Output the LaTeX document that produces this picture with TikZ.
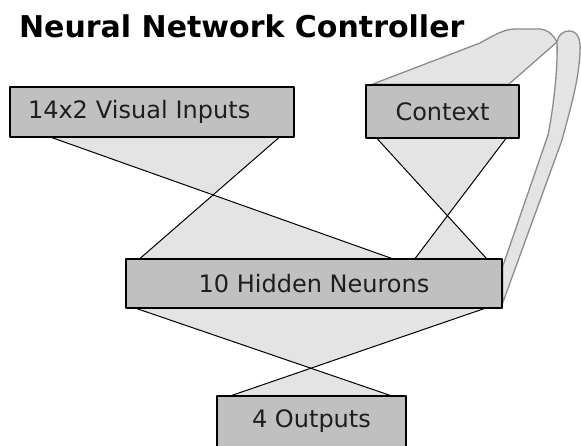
\documentclass[tikz,border=0pt]{standalone}
\usepackage{fontspec}
\setmainfont{DejaVu Sans}
\usetikzlibrary{calc,backgrounds}
\definecolor{boxgray}{RGB}{192,192,192}
\definecolor{fangray}{RGB}{228,228,228}
\definecolor{loopgray}{RGB}{140,140,140}
\definecolor{textgray}{RGB}{30,30,30}

\begin{document}
\begin{tikzpicture}[line cap=round,line join=round,x=0.5pt,y=-0.5pt,
    layer/.style={draw=black,line width=0.75pt,fill=boxgray,inner sep=0pt,text=textgray,font=\fontsize{12}{14}\selectfont},
    fan/.style={fill=fangray},
    wire/.style={draw=black,line width=0.5pt},
    recur/.style={draw=loopgray,line width=0.65pt,fill=fangray}]
      \useasboundingbox (0,0) rectangle (581,445);
      \node[anchor=base west,font=\fontsize{15}{18}\selectfont\bfseries] (title) at (12,37) {Neural Network Controller};
      \node[layer,minimum width=142pt,minimum height=25pt,inner xsep=9pt,text width=124pt,align=left] (vis) at (152,112) {14x2 Visual Inputs};
      \node[layer,minimum width=76.5pt,minimum height=26.5pt] (ctx) at (442.5,111.5) {Context};
      \node[layer,minimum width=188pt,minimum height=24.5pt] (hid) at (314,283.5) {10 Hidden Neurons};
      \node[layer,minimum width=94.5pt,minimum height=25.5pt] (out) at (311.5,421.5) {4 Outputs};
      \coordinate (vis-l) at ($(vis.south west)+(43,0)$);
      \coordinate (vis-r) at ($(vis.south east)+(-16,0)$);
      \coordinate (ctx-l) at ($(ctx.south west)+(12,0)$);
      \coordinate (ctx-r) at ($(ctx.south east)+(-14,0)$);
      \coordinate (hid-a) at ($(hid.north west)+(15,0)$);
      \coordinate (hid-b) at ($(hid.north west)+(266,0)$);
      \coordinate (hid-c) at ($(hid.north west)+(290,0)$);
      \coordinate (hid-d) at ($(hid.north west)+(361,0)$);
      \coordinate (hid-l) at ($(hid.south west)+(12,0)$);
      \coordinate (hid-r) at ($(hid.south east)+(-19,0)$);
      \coordinate (out-l) at ($(out.north west)+(16,0)$);
      \coordinate (out-r) at ($(out.north east)+(-17,0)$);
      \coordinate (ctx-tl) at ($(ctx.north west)+(7,0)$);
      \coordinate (ctx-tr) at ($(ctx.north east)+(-11,0)$);
      \coordinate (hid-ru) at ($(hid.north east)+(0,8)$);
      \coordinate (hid-rd) at ($(hid.south east)+(0,-6)$);
      \begin{pgfonlayer}{background}
      \fill[fan] (vis-l) -- (vis-r) -- (hid-a) -- (hid-b) -- cycle;
      \fill[fan] (ctx-l) -- (ctx-r) -- (hid-c) -- (hid-d) -- cycle;
      \fill[fan] (hid-l) -- (hid-r) -- (out-l) -- (out-r) -- cycle;
      \path[recur] (ctx-tl) -- (480,43) .. controls (496,34) and (505,29) .. (515,29) -- (540,29) .. controls (549,30) and (554,36) .. (557,42) -- (ctx-tr) -- cycle;
      \path[recur] (hid-ru) -- (548,135) .. controls (553,110) and (558,70) .. (557,42) .. controls (558,35) and (563,31) .. (569,31) .. controls (577,31) and (581,38) .. (580,52) .. controls (579,80) and (570,110) .. (562,140) -- (hid-rd) -- cycle;
      \end{pgfonlayer}
      \draw[wire] (vis-l) -- (hid-b);
      \draw[wire] (vis-r) -- (hid-a);
      \draw[wire] (ctx-l) -- (hid-d);
      \draw[wire] (ctx-r) -- (hid-c);
      \draw[wire] (hid-l) -- (out-r);
      \draw[wire] (hid-r) -- (out-l);
\end{tikzpicture}
\end{document}
